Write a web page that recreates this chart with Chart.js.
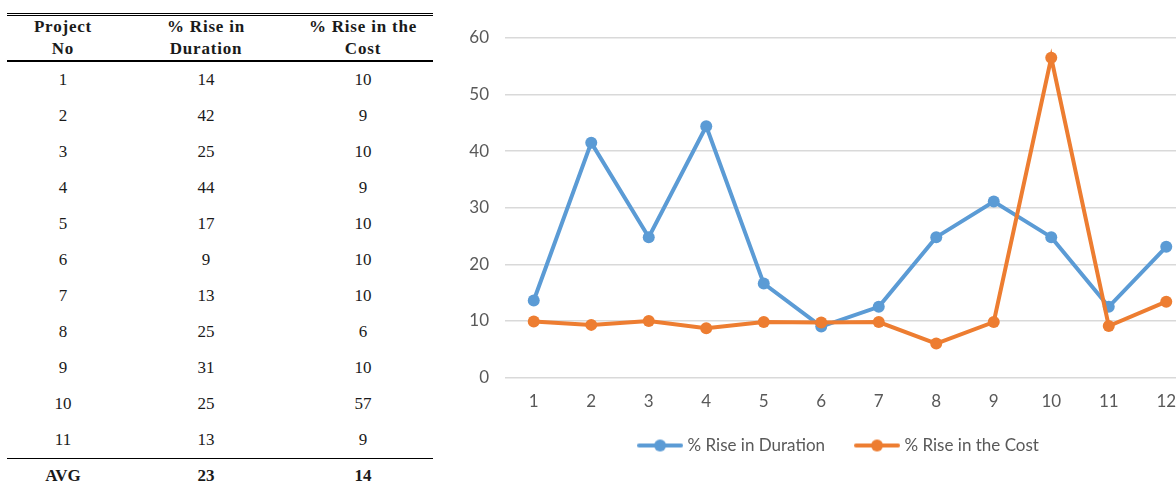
<!DOCTYPE html>
<html>
<head>
<meta charset="utf-8">
<script src="https://cdn.jsdelivr.net/npm/chart.js@4/dist/chart.umd.min.js"></script>
<style>
  html, body { margin: 0; padding: 0; background: #fff; }
  body { width: 1176px; height: 494px; overflow: hidden; position: relative; }
  #tbl {
    position: absolute; left: 7px; top: 13px; width: 426px;
    border-collapse: collapse; table-layout: fixed;
    font-family: "Liberation Serif", "Times New Roman", serif; color: #1a1a1a;
  }
  #tbl thead tr { border-top: 3px double #000; border-bottom: 2px solid #000; }
  #tbl th { height: 44px; padding: 0; font-size: 17px; line-height: 22px; font-weight: bold; letter-spacing: 0.8px; text-align: center; vertical-align: middle; }
  #tbl td { height: 36px; padding: 0; font-size: 17px; text-align: center; vertical-align: middle; }
  #tbl tr.avg { border-top: 1.5px solid #000; }
  #tbl tr.avg td { height: 34px; font-weight: bold; }
  #wrap { position: absolute; left: 455px; top: 0; width: 760px; height: 494px; }
</style>
</head>
<body>
<table id="tbl">
  <colgroup><col style="width:112px"><col style="width:174px"><col style="width:140px"></colgroup>
  <thead><tr><th id="h0"></th><th id="h1"></th><th id="h2"></th></tr></thead>
  <tbody id="tbody"></tbody>
</table>
<div id="wrap"><canvas id="chart" width="760" height="494"></canvas></div>
<script>
// Project numbers along the x axis
const projects = ['1', '2', '3', '4', '5', '6', '7', '8', '9', '10', '11', '12'];
// Percentage rise in duration per project
const riseDuration = [13.6, 41.5, 24.8, 44.4, 16.6, 9.0, 12.5, 24.8, 31.1, 24.8, 12.5, 23.1];
// Percentage rise in cost per project
const riseCost = [9.9, 9.3, 10.0, 8.7, 9.8, 9.7, 9.8, 6.0, 9.8, 56.5, 9.1, 13.4];
// Table headings
const headProject = ['Project', 'No'];
const headDuration = ['% Rise in', 'Duration'];
const headCost = ['% Rise in the', 'Cost'];
const tableRowCount = 11;
const avgLabel = 'AVG';

const seriesNames = ['% Rise in Duration', '% Rise in the Cost'];
const blue = '#5b9bd5';
const orange = '#ed7d31';

// ---- summary table (rounded values for projects 1..11 plus the average) ----
document.getElementById('h0').innerHTML = headProject.join('<br>');
document.getElementById('h1').innerHTML = headDuration.join('<br>');
document.getElementById('h2').innerHTML = headCost.join('<br>');
const tbody = document.getElementById('tbody');
const durRounded = riseDuration.slice(0, tableRowCount).map(v => Math.round(v));
const costRounded = riseCost.slice(0, tableRowCount).map(v => Math.round(v));
for (let i = 0; i < tableRowCount; i++) {
  const tr = document.createElement('tr');
  [projects[i], durRounded[i], costRounded[i]].forEach(v => {
    const td = document.createElement('td');
    td.textContent = v;
    tr.appendChild(td);
  });
  tbody.appendChild(tr);
}
const mean = a => a.reduce((s, v) => s + v, 0) / a.length;
const avgRow = document.createElement('tr');
avgRow.className = 'avg';
[avgLabel, Math.round(mean(durRounded)), Math.round(mean(costRounded))].forEach(v => {
  const td = document.createElement('td');
  td.textContent = v;
  avgRow.appendChild(td);
});
tbody.appendChild(avgRow);

// ---- legend symbol: short line with a round marker ----
function legendSymbol(color) {
  const c = document.createElement('canvas');
  c.width = 46; c.height = 14;
  const g = c.getContext('2d');
  g.strokeStyle = color; g.lineWidth = 4; g.lineCap = 'round';
  g.beginPath(); g.moveTo(2, 7); g.lineTo(44, 7); g.stroke();
  g.fillStyle = color;
  g.beginPath(); g.arc(23, 7, 6, 0, Math.PI * 2); g.fill();
  return c;
}
const symbols = [legendSymbol(blue), legendSymbol(orange)];

// nudges the legend box by a fixed offset after layout
const legendShift = {
  id: 'legendShift',
  afterLayout(chart, args, opts) {
    const lg = chart.legend;
    if (lg) {
      lg.left += opts.dx; lg.right += opts.dx;
      lg.top += opts.dy; lg.bottom += opts.dy;
    }
  }
};

const chartFont = { family: 'Lato, "Open Sans", sans-serif', size: 17 };

new Chart(document.getElementById('chart'), {
  type: 'line',
  data: {
    labels: projects,
    datasets: [
      {
        label: seriesNames[0], data: riseDuration, order: 1,
        borderColor: blue, backgroundColor: blue, borderWidth: 4,
        pointRadius: 6, pointBackgroundColor: blue, pointBorderColor: blue, pointBorderWidth: 0,
        tension: 0
      },
      {
        label: seriesNames[1], data: riseCost, order: 0,
        borderColor: orange, backgroundColor: orange, borderWidth: 4,
        pointRadius: 6, pointBackgroundColor: orange, pointBorderColor: orange, pointBorderWidth: 0,
        tension: 0
      }
    ]
  },
  plugins: [legendShift],
  options: {
    responsive: false,
    devicePixelRatio: 1,
    animation: false,
    layout: { padding: { left: 0, right: 20, top: 38, bottom: 25.5 } },
    scales: {
      x: {
        type: 'category',
        offset: true,
        grid: { display: false, drawTicks: false },
        border: { display: false },
        ticks: { color: '#595959', font: chartFont, padding: 14, maxRotation: 0, autoSkip: false },
        afterFit: s => { s.height = 31; }
      },
      y: {
        min: 0, max: 60,
        ticks: { stepSize: 10, color: '#595959', font: chartFont, padding: 16 },
        grid: { color: '#d9d9d9', lineWidth: 1.5, drawTicks: false },
        border: { display: false },
        afterFit: s => { s.width = 50; }
      }
    },
    plugins: {
      tooltip: { enabled: false },
      legendShift: { dx: 15, dy: -4.5 },
      legend: {
        position: 'bottom',
        labels: {
          usePointStyle: true,
          pointStyleWidth: 38,
          padding: 33,
          color: '#595959',
          font: chartFont,
          generateLabels: chart => chart.data.datasets.map((ds, i) => ({
            text: ds.label,
            pointStyle: symbols[i],
            fillStyle: ds.borderColor,
            strokeStyle: ds.borderColor,
            lineWidth: 0,
            fontColor: '#595959',
            hidden: false,
            datasetIndex: i
          }))
        }
      }
    }
  }
});
</script>
</body>
</html>
